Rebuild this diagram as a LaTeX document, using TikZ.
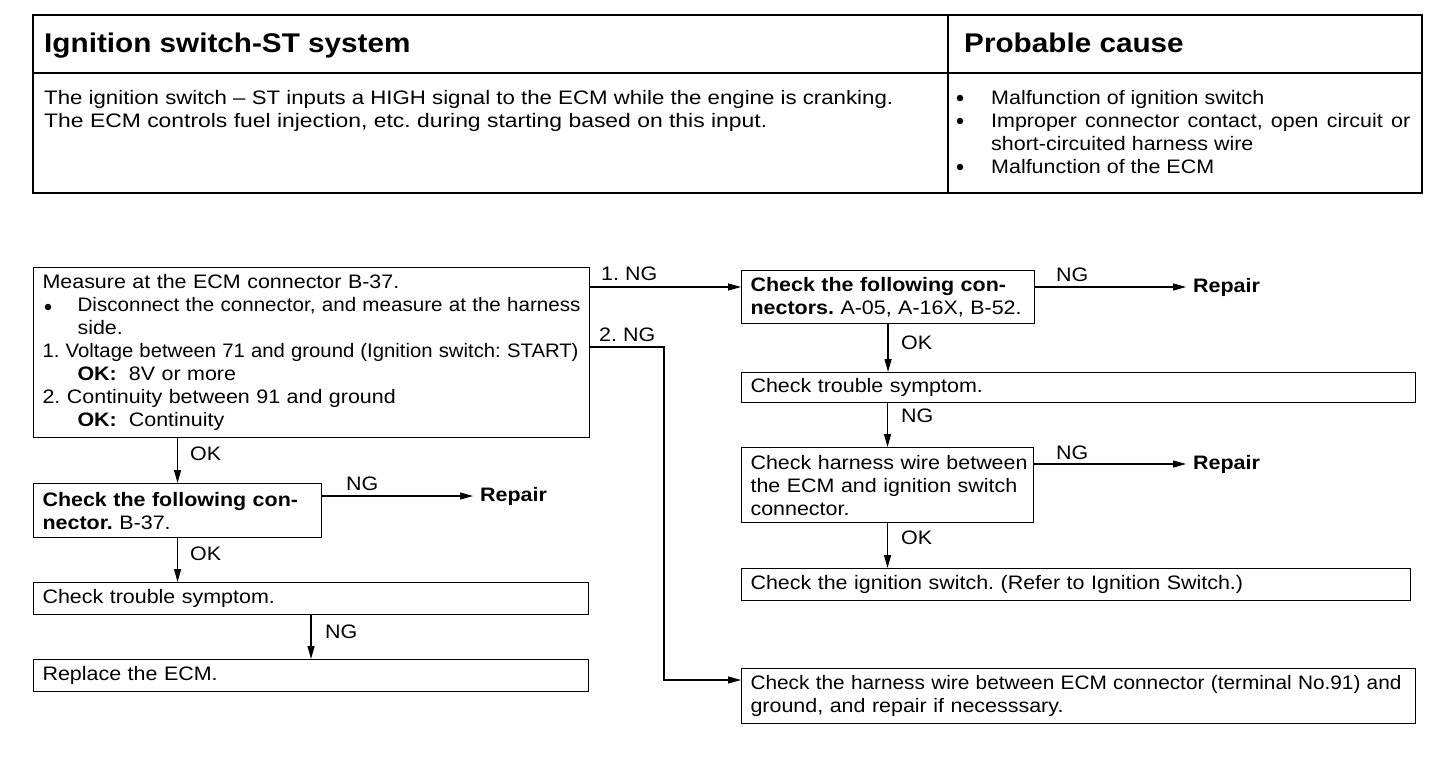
\documentclass[tikz,border=0pt]{standalone}
\usepackage{fontspec}
\usepackage{graphicx}
\setmainfont{Liberation Sans}[FakeStretch=1.10]
\usetikzlibrary{arrows.meta,calc}
\frenchspacing
\newcommand{\fitw}[2]{\resizebox{#1}{\height}{#2}}
\begin{document}
\begin{tikzpicture}[x=1pt,y=-1pt,
  every node/.style={inner sep=0pt},
  fnt/.style={font=\fontsize{19.5}{23}\selectfont\frenchspacing},
  hdr/.style={font=\fontsize{27}{30}\selectfont\bfseries, anchor=base west},
  txt/.style={fnt, anchor=base west},
  dot/.style={circle, fill, minimum size=6.5pt},
  box/.style={draw, line width=1.1pt, anchor=north west, fnt, inner xsep=9pt, inner ysep=2pt, align=left},
  arr/.style={line width=1.2pt, -{Triangle[length=13pt,width=7pt]}},
  lbl/.style={fnt, anchor=west},
  rep/.style={font=\fontsize{19.5}{23}\selectfont\bfseries, anchor=west, inner xsep=7pt},
]
\useasboundingbox (0,0) rectangle (1456,762);
% ---------- table ----------
\draw[line width=2.6pt] (33,15) rectangle (1422,193);
\draw[line width=1.3pt] (33,73) -- (1422,73);
\draw[line width=1.3pt] (948,15) -- (948,193);
\node[hdr] (h1) at (44,53) {Ignition switch-ST system};
\node[hdr] (h2) at (964,53) {Probable cause};
\node[txt] (d1) at (44,105) {\fitw{849pt}{The ignition switch – ST inputs a HIGH signal to the ECM while the engine is cranking.}};
\node[txt] (d2) at (44,128) {\fitw{723pt}{The ECM controls fuel injection, etc. during starting based on this input.}};
\node[dot] (b1) at (960,98) {};
\node[dot] (b2) at (960,121) {};
\node[dot] (b3) at (960,167) {};
\node[txt] (c1) at (991,105) {Malfunction of ignition switch};
\node[txt] (c2) at (991,128) {\makebox[419pt][s]{Improper connector contact, open circuit or}};
\node[txt] (c3) at (991,151) {short-circuited harness wire};
\node[txt] (c4) at (991,174) {Malfunction of the ECM};
% ---------- boxes ----------
\node[box, minimum width=556, minimum height=170, text width=538] (A) at (33,267) {%
\mbox{Measure at the ECM connector B-37.}\\
\mbox{\hspace*{35pt}\fitw{503pt}{Disconnect the connector, and measure at the harness}}\\
\mbox{\hspace*{35pt}side.}\\
\fitw{536pt}{1. Voltage between 71 and ground (Ignition switch: START)}\\
\mbox{\hspace*{35pt}\textbf{OK:}\hspace{12pt}8V or more}\\
\mbox{2. Continuity between 91 and ground}\\
\mbox{\hspace*{35pt}\textbf{OK:}\hspace{12pt}Continuity}};
\node[dot] (bA) at (48,307) {};
\node[box, minimum width=293, minimum height=53, text width=275] (B) at (741,270) {%
\makebox[\hsize][s]{\textbf{Check the following con-}}\\
\mbox{\textbf{nectors.} A-05, A-16X, B-52.}};
\node[box, minimum width=674, minimum height=30, text width=656] (C) at (741,372) {Check trouble symptom.};
\node[box, minimum width=292, minimum height=75, text width=274] (D) at (741,447) {%
\makebox[\hsize][s]{Check harness wire between}\\
\makebox[\hsize][s]{the ECM and ignition switch}\\
\mbox{connector.}};
\node[box, minimum width=669, minimum height=32, text width=651] (E) at (741,568) {Check the ignition switch. (Refer to Ignition Switch.)};
\node[box, minimum width=674, minimum height=55, text width=656] (H) at (741,668) {%
\fitw{651pt}{Check the harness wire between ECM connector (terminal No.91) and}\\
\mbox{ground, and repair if necesssary.}};
\node[box, minimum width=288, minimum height=54, text width=270] (F) at (33,483) {%
\makebox[\hsize][s]{\textbf{Check the following con-}}\\
\mbox{\textbf{nector.} B-37.}};
\node[box, minimum width=555, minimum height=32, text width=537] (G) at (33,582) {Check trouble symptom.};
\node[box, minimum width=555, minimum height=32, text width=537] (I) at (33,659) {Replace the ECM.};
% ---------- repair targets ----------
\node[rep] (R1) at (1186,287) {Repair};
\node[rep] (R2) at (1186,464) {Repair};
\node[rep] (R3) at (473,496) {Repair};
% ---------- connectors ----------
\coordinate (b1c) at ($(B.north west)+(0,17)$);
\draw[arr] (b1c -| A.east) -- (b1c);
\coordinate (a2) at ($(A.north east)+(0,80)$);
\coordinate (t2) at (664,347);
\coordinate (h1c) at ($(H.north west)+(0,12)$);
\draw[arr] (a2) -- (t2) |- (h1c);
\coordinate (rb) at ($(B.north east)+(0,17)$);
\draw[arr] (rb) -- (rb -| R1.west);
\coordinate (rd) at ($(D.north east)+(0,17)$);
\draw[arr] (rd) -- (rd -| R2.west);
\coordinate (rf) at ($(F.north east)+(0,13)$);
\draw[arr] (rf) -- (rf -| R3.west);
\draw[arr] (F.north |- A.south) -- (F.north);
\draw[arr] (F.south) -- (F.south |- G.north);
\draw[arr] (G.south) -- (I.north);
\draw[arr] (B.south) -- (B.south |- C.north);
\draw[arr] (D.north |- C.south) -- (D.north);
\draw[arr] (D.south) -- (D.south |- E.north);
% ---------- labels ----------
\node[lbl] (l1) at (601,274) {1. NG};
\node[lbl] (l2) at (599,335) {2. NG};
\node[lbl] (l3) at (1056,275) {NG};
\node[lbl] (l4) at (1056,453) {NG};
\node[lbl] (l5) at (346,484) {NG};
\node[lbl] (l6) at (190,454) {OK};
\node[lbl] (l7) at (190,554) {OK};
\node[lbl] (l8) at (325,632) {NG};
\node[lbl] (l9) at (901,343) {OK};
\node[lbl] (l10) at (901,416) {NG};
\node[lbl] (l11) at (901,538) {OK};
\end{tikzpicture}
\end{document}
